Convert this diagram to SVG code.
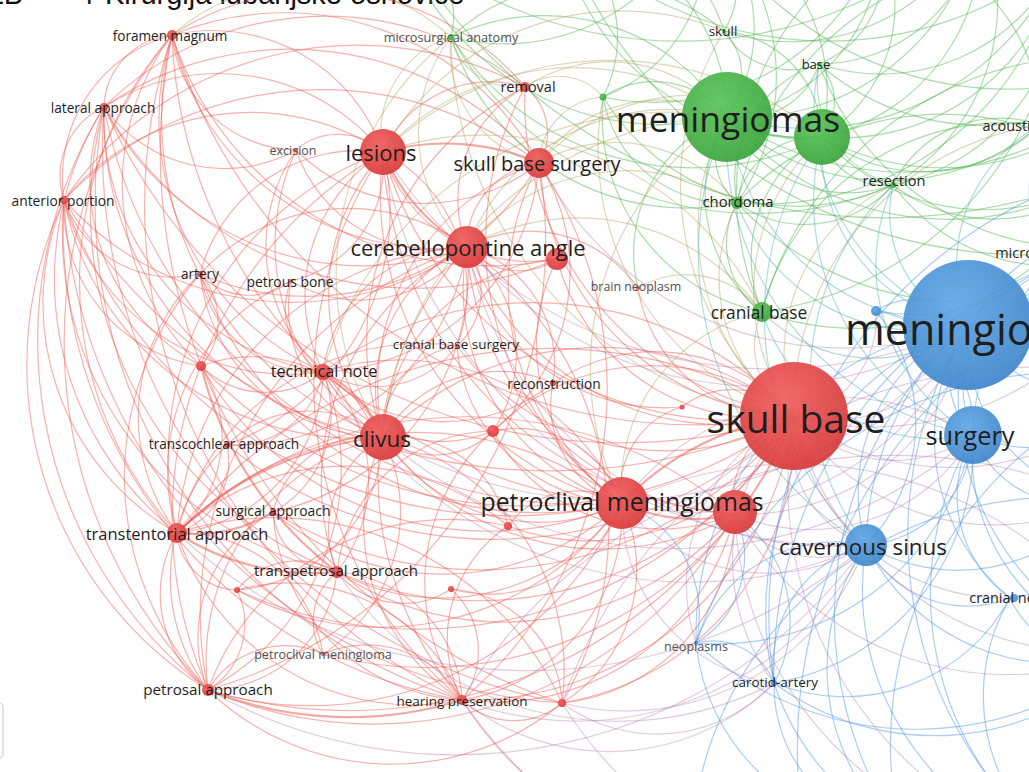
<svg xmlns="http://www.w3.org/2000/svg" width="1029" height="772" viewBox="0 0 1029 772">
<style>
#edges path{fill:none;stroke-width:1.2}
.r{stroke:rgb(236,92,82);stroke-opacity:.47}
.t{stroke:rgb(232,85,75);stroke-opacity:.5;stroke-width:2.2!important}
.g{stroke:rgb(80,182,80);stroke-opacity:.48}
.o{stroke:rgb(175,160,90);stroke-opacity:.42}
.c{stroke:rgb(70,170,170);stroke-opacity:.42}
.b{stroke:rgb(80,150,225);stroke-opacity:.48}
.m{stroke:rgb(175,120,170);stroke-opacity:.38}
.nr{fill:url(#gr);fill-opacity:.93}
.ng{fill:url(#gg);fill-opacity:.93}
.nb{fill:url(#gb);fill-opacity:.93}
.l{font-family:"Open Sans","DejaVu Sans",sans-serif;text-anchor:middle;dominant-baseline:central;fill:#1e1e1e}
.s{fill:#505050}
.st{text-anchor:start}
</style>
<defs>
<radialGradient id="gr" cx="40%" cy="35%" r="70%"><stop offset="0" stop-color="#f06060"/><stop offset="1" stop-color="#d83838"/></radialGradient>
<radialGradient id="gg" cx="40%" cy="35%" r="70%"><stop offset="0" stop-color="#5cc45c"/><stop offset="1" stop-color="#3aa43a"/></radialGradient>
<radialGradient id="gb" cx="40%" cy="35%" r="70%"><stop offset="0" stop-color="#62a8e6"/><stop offset="1" stop-color="#3f86c9"/></radialGradient>
</defs>
<rect width="1029" height="772" fill="#fff"/>
<text x="-14" y="4" font-family="Liberation Sans, Arial, sans-serif" font-size="29" fill="#111">ZB</text>
<text x="78" y="4" font-family="Liberation Sans, Arial, sans-serif" font-size="29" fill="#111">4</text>
<text x="105" y="4" font-family="Liberation Sans, Arial, sans-serif" font-size="29" fill="#111">Kirurgija lubanjske osnovice</text>
<g id="edges">
<path class="r" d="M172 35A75 75 0 0 0 104 107"/>
<path class="r" d="M172 35A148 148 0 0 0 64 200"/>
<path class="r" d="M383 152A181 181 0 0 0 172 35"/>
<path class="r" d="M172 35A340 340 0 0 0 383 437"/>
<path class="r" d="M172 35A272 272 0 0 0 467 247"/>
<path class="r" d="M172 35A547 547 0 0 0 794 416"/>
<path class="r" d="M172 35A487 487 0 0 0 622 503"/>
<path class="r" d="M172 35A374 374 0 0 0 177 533"/>
<path class="r" d="M172 35A492 492 0 0 0 208 690"/>
<path class="r" d="M172 35A544 544 0 0 0 462 700"/>
<path class="r" d="M172 35A277 277 0 0 0 323 372"/>
<path class="r" d="M539 163A292 292 0 0 0 172 35"/>
<path class="r" d="M104 107A76 76 0 0 0 64 200"/>
<path class="r" d="M383 152A212 212 0 0 0 104 107"/>
<path class="r" d="M104 107A324 324 0 0 0 383 437"/>
<path class="r" d="M104 107A292 292 0 0 0 467 247"/>
<path class="r" d="M104 107A567 567 0 0 0 794 416"/>
<path class="r" d="M104 107A489 489 0 0 0 622 503"/>
<path class="r" d="M104 107A324 324 0 0 0 177 533"/>
<path class="r" d="M104 107A444 444 0 0 0 208 690"/>
<path class="r" d="M104 107A258 258 0 0 0 323 372"/>
<path class="r" d="M104 107A390 390 0 0 0 337 572"/>
<path class="r" d="M104 107A520 520 0 0 0 462 700"/>
<path class="r" d="M383 152A242 242 0 0 0 64 200"/>
<path class="r" d="M64 200A298 298 0 0 0 383 437"/>
<path class="r" d="M64 200A305 305 0 0 0 467 247"/>
<path class="r" d="M64 200A571 571 0 0 0 794 416"/>
<path class="r" d="M64 200A476 476 0 0 0 622 503"/>
<path class="r" d="M64 200A264 264 0 0 0 177 533"/>
<path class="r" d="M64 200A383 383 0 0 0 208 690"/>
<path class="r" d="M64 200A479 479 0 0 0 462 700"/>
<path class="r" d="M64 200A233 233 0 0 0 323 372"/>
<path class="r" d="M64 200A116 116 0 0 0 200 274"/>
<path class="r" d="M64 200A346 346 0 0 0 337 572"/>
<path class="r" d="M64 200A161 161 0 0 0 201 366"/>
<path class="t" d="M539 163A234 234 0 0 0 383 152"/>
<path class="t" d="M383 152A190 190 0 0 0 467 247"/>
<path class="r" d="M383 152A214 214 0 0 0 383 437"/>
<path class="r" d="M383 152A367 367 0 0 0 794 416"/>
<path class="r" d="M383 152A319 319 0 0 0 622 503"/>
<path class="r" d="M525 87A117 117 0 0 0 383 152"/>
<path class="r" d="M383 152A171 171 0 0 0 323 372"/>
<path class="r" d="M383 152A325 325 0 0 0 177 533"/>
<path class="r" d="M383 152A425 425 0 0 0 208 690"/>
<path class="r" d="M383 152A65 65 0 0 0 296 150"/>
<path class="r" d="M383 152A153 153 0 0 0 557 259"/>
<path class="r" d="M383 152A379 379 0 0 0 735 514"/>
<path class="r" d="M383 152A416 416 0 0 0 462 700"/>
<path class="r" d="M539 163A83 83 0 0 0 467 247"/>
<path class="r" d="M539 163A269 269 0 0 0 794 416"/>
<path class="r" d="M539 163A263 263 0 0 0 622 503"/>
<path class="r" d="M539 163A58 58 0 0 0 525 87"/>
<path class="r" d="M539 163A236 236 0 0 0 383 437"/>
<path class="r" d="M467 247A156 156 0 0 0 383 437"/>
<path class="r" d="M467 247A276 276 0 0 0 794 416"/>
<path class="r" d="M467 247A224 224 0 0 0 622 503"/>
<path class="r" d="M467 247A143 143 0 0 0 323 372"/>
<path class="r" d="M467 247A305 305 0 0 0 177 533"/>
<path class="r" d="M467 247A385 385 0 0 0 208 690"/>
<path class="r" d="M467 247A340 340 0 0 0 462 700"/>
<path class="r" d="M467 247A284 284 0 0 0 735 514"/>
<path class="r" d="M467 247A68 68 0 0 0 557 259"/>
<path class="r" d="M467 247A263 263 0 0 0 337 572"/>
<path class="r" d="M467 247A201 201 0 0 0 200 274"/>
<path class="r" d="M794 416A308 308 0 0 0 383 437"/>
<path class="r" d="M383 437A186 186 0 0 0 622 503"/>
<path class="t" d="M383 437A340 340 0 0 0 177 533"/>
<path class="r" d="M383 437A230 230 0 0 0 208 690"/>
<path class="r" d="M383 437A206 206 0 0 0 462 700"/>
<path class="t" d="M383 437A130 130 0 0 0 323 372"/>
<path class="r" d="M383 437A107 107 0 0 0 337 572"/>
<path class="r" d="M383 437A270 270 0 0 0 735 514"/>
<path class="r" d="M383 437A83 83 0 0 0 493 431"/>
<path class="r" d="M383 437A117 117 0 0 0 227 445"/>
<path class="r" d="M383 437A146 146 0 0 0 201 366"/>
<path class="r" d="M383 437A100 100 0 0 0 273 512"/>
<path class="t" d="M794 416A290 290 0 0 0 622 503"/>
<path class="r" d="M794 416A86 86 0 0 0 735 514"/>
<path class="r" d="M794 416A471 471 0 0 0 177 533"/>
<path class="r" d="M208 690A485 485 0 0 0 794 416"/>
<path class="r" d="M462 700A328 328 0 0 0 794 416"/>
<path class="r" d="M794 416A355 355 0 0 0 323 372"/>
<path class="r" d="M794 416A84 84 0 0 0 682 407"/>
<path class="r" d="M794 416A182 182 0 0 0 553 383"/>
<path class="r" d="M794 416A226 226 0 0 0 493 431"/>
<path class="r" d="M337 572A362 362 0 0 0 794 416"/>
<path class="r" d="M562 703A277 277 0 0 0 794 416"/>
<path class="t" d="M622 503A170 170 0 0 0 735 514"/>
<path class="r" d="M622 503A335 335 0 0 0 177 533"/>
<path class="r" d="M208 690A341 341 0 0 0 622 503"/>
<path class="r" d="M462 700A191 191 0 0 0 622 503"/>
<path class="r" d="M337 572A220 220 0 0 0 622 503"/>
<path class="r" d="M622 503A87 87 0 0 0 508 526"/>
<path class="r" d="M562 703A157 157 0 0 0 622 503"/>
<path class="r" d="M622 503A245 245 0 0 0 323 372"/>
<path class="r" d="M622 503A111 111 0 0 0 493 431"/>
<path class="r" d="M462 700A248 248 0 0 0 735 514"/>
<path class="r" d="M735 514A419 419 0 0 0 177 533"/>
<path class="r" d="M208 690A417 417 0 0 0 735 514"/>
<path class="r" d="M177 533A120 120 0 0 0 208 690"/>
<path class="t" d="M177 533A250 250 0 0 0 337 572"/>
<path class="r" d="M177 533A248 248 0 0 0 462 700"/>
<path class="t" d="M177 533A150 150 0 0 0 273 512"/>
<path class="r" d="M177 533A163 163 0 0 0 323 372"/>
<path class="r" d="M177 533A127 127 0 0 0 201 366"/>
<path class="r" d="M177 533A76 76 0 0 0 227 445"/>
<path class="t" d="M208 690A380 380 0 0 0 462 700"/>
<path class="r" d="M208 690A131 131 0 0 0 337 572"/>
<path class="r" d="M208 690A78 78 0 0 0 237 590"/>
<path class="r" d="M208 690A254 254 0 0 0 323 372"/>
<path class="r" d="M208 690A266 266 0 0 0 562 703"/>
<path class="r" d="M462 700A134 134 0 0 0 337 572"/>
<path class="r" d="M462 700A75 75 0 0 0 562 703"/>
<path class="r" d="M462 700A83 83 0 0 0 451 589"/>
<path class="r" d="M337 572A150 150 0 0 0 323 372"/>
<path class="r" d="M337 572A77 77 0 0 0 237 590"/>
<path class="r" d="M337 572A86 86 0 0 0 451 589"/>
<path class="r" d="M237 590A296 296 0 0 0 622 503"/>
<path class="r" d="M237 590A438 438 0 0 0 794 416"/>
<path class="r" d="M201 366A92 92 0 0 0 323 372"/>
<path class="r" d="M201 366A69 69 0 0 0 200 274"/>
<path class="t" d="M201 366A370 370 0 0 0 337 572"/>
<path class="r" d="M200 274A118 118 0 0 0 323 372"/>
<path class="r" d="M200 274A68 68 0 0 0 291 281"/>
<path class="r" d="M383 152A165 165 0 0 0 200 274"/>
<path class="r" d="M291 281A134 134 0 0 0 467 247"/>
<path class="r" d="M291 281A136 136 0 0 0 383 437"/>
<path class="r" d="M323 372A135 135 0 0 0 493 431"/>
<path class="r" d="M562 703A192 192 0 0 0 735 514"/>
<path class="r" d="M562 703A119 119 0 0 0 451 589"/>
<path class="r" d="M508 526A230 230 0 0 0 794 416"/>
<path class="r" d="M553 383A121 121 0 0 0 467 247"/>
<path class="r" d="M493 431A158 158 0 0 0 337 572"/>
<path class="r" d="M273 512A262 262 0 0 0 622 503"/>
<path class="r" d="M273 512A142 142 0 0 0 208 690"/>
<path class="r" d="M227 445A185 185 0 0 0 208 690"/>
<path class="r" d="M227 445A91 91 0 0 0 323 372"/>
<path class="r" d="M457 346A258 258 0 0 0 794 416"/>
<path class="r" d="M457 346A88 88 0 0 0 383 437"/>
<path class="r" d="M323 654A143 143 0 0 0 177 533"/>
<path class="r" d="M323 654A169 169 0 0 0 383 437"/>
<path class="r" d="M525 87A268 268 0 0 0 172 35"/>
<path class="r" d="M296 150A225 225 0 0 0 383 437"/>
<path class="r" d="M172 35A127 127 0 0 0 296 150"/>
<path class="r" d="M104 107A148 148 0 0 0 296 150"/>
<path class="r" d="M296 150A168 168 0 0 0 323 372"/>
<path class="r" d="M557 259A213 213 0 0 0 794 416"/>
<path class="r" d="M557 259A189 189 0 0 0 622 503"/>
<path class="r" d="M557 259A187 187 0 0 0 383 437"/>
<path class="r" d="M553 383A134 134 0 0 0 383 437"/>
<path class="r" d="M553 383A104 104 0 0 0 622 503"/>
<path class="r" d="M638 288A152 152 0 0 0 794 416"/>
<path class="r" d="M638 288A132 132 0 0 0 467 247"/>
<path class="r" d="M682 407A85 85 0 0 0 622 503"/>
<path class="r" d="M493 431A192 192 0 0 0 735 514"/>
<path class="r" d="M451 589A143 143 0 0 0 622 503"/>
<path class="r" d="M508 526A115 115 0 0 0 383 437"/>
<path class="r" d="M508 526A135 135 0 0 0 462 700"/>
<path class="r" d="M323 654A90 90 0 0 0 208 690"/>
<path class="r" d="M323 654A396 396 0 0 0 794 416"/>
<path class="r" d="M227 445A249 249 0 0 0 383 152"/>
<path class="r" d="M227 445A233 233 0 0 0 467 247"/>
<path class="r" d="M273 512A398 398 0 0 0 794 416"/>
<path class="r" d="M273 512A246 246 0 0 0 467 247"/>
<path class="r" d="M323 372A102 102 0 0 0 457 346"/>
<path class="r" d="M200 274A184 184 0 0 0 383 437"/>
<path class="r" d="M200 274A360 360 0 0 0 622 503"/>
<path class="r" d="M201 366A332 332 0 0 0 622 503"/>
<path class="r" d="M201 366A446 446 0 0 0 794 416"/>
<path class="r" d="M172 35A249 249 0 0 0 201 366"/>
<path class="r" d="M104 107A208 208 0 0 0 201 366"/>
<path class="r" d="M462 700A188 188 0 0 0 237 590"/>
<path class="r" d="M337 572A302 302 0 0 0 735 514"/>
<path class="r" d="M177 533A62 62 0 0 0 237 590"/>
<path class="r" d="M237 590A158 158 0 0 0 383 437"/>
<path class="r" d="M64 200A531 531 0 0 0 562 703"/>
<path class="r" d="M172 35A580 580 0 0 0 562 703"/>
<path class="r" d="M104 107A564 564 0 0 0 562 703"/>
<path class="r" d="M462 700A463 463 0 0 0 1060 850"/>
<path class="r" d="M525 87A316 316 0 0 0 104 107"/>
<path class="r" d="M539 163A329 329 0 0 0 104 107"/>
<path class="r" d="M539 163A357 357 0 0 0 64 200"/>
<path class="r" d="M525 87A356 356 0 0 0 64 200"/>
<path class="r" d="M172 35A334 334 0 0 0 557 259"/>
<path class="r" d="M104 107A358 358 0 0 0 557 259"/>
<path class="r" d="M467 247A201 201 0 0 0 682 407"/>
<path class="r" d="M457 346A171 171 0 0 0 622 503"/>
<path class="r" d="M457 346A253 253 0 0 0 177 533"/>
<path class="r" d="M457 346A156 156 0 0 0 383 152"/>
<path class="r" d="M457 346A75 75 0 0 0 467 247"/>
<path class="r" d="M323 372A225 225 0 0 0 539 163"/>
<path class="r" d="M323 372A173 173 0 0 0 553 383"/>
<path class="r" d="M493 431A204 204 0 0 0 539 163"/>
<path class="r" d="M493 431A140 140 0 0 0 467 247"/>
<path class="r" d="M493 431A203 203 0 0 0 462 700"/>
<path class="r" d="M508 526A248 248 0 0 0 177 533"/>
<path class="r" d="M508 526A257 257 0 0 0 208 690"/>
<path class="r" d="M273 512A66 66 0 0 0 337 572"/>
<path class="r" d="M273 512A200 200 0 0 0 462 700"/>
<path class="r" d="M273 512A112 112 0 0 0 323 372"/>
<path class="r" d="M227 445A426 426 0 0 0 794 416"/>
<path class="r" d="M462 700A110 110 0 0 0 323 654"/>
<path class="r" d="M337 572A62 62 0 0 0 323 654"/>
<path class="r" d="M208 690A467 467 0 0 0 539 163"/>
<path class="r" d="M462 700A407 407 0 0 0 539 163"/>
<path class="r" d="M562 703A241 241 0 0 0 383 437"/>
<path class="r" d="M562 703A316 316 0 0 0 177 533"/>
<path class="r" d="M562 703A350 350 0 0 0 467 247"/>
<path class="r" d="M525 87A128 128 0 0 0 467 247"/>
<path class="r" d="M525 87A284 284 0 0 0 383 437"/>
<path class="r" d="M525 87A319 319 0 0 0 794 416"/>
<path class="r" d="M525 87A320 320 0 0 0 622 503"/>
<path class="r" d="M296 150A148 148 0 0 0 467 247"/>
<path class="r" d="M296 150A182 182 0 0 0 539 163"/>
<path class="r" d="M200 274A268 268 0 0 0 539 163"/>
<path class="r" d="M200 274A195 195 0 0 0 177 533"/>
<path class="r" d="M200 274A312 312 0 0 0 208 690"/>
<path class="r" d="M291 281A72 72 0 0 0 323 372"/>
<path class="r" d="M291 281A119 119 0 0 0 383 152"/>
<path class="r" d="M291 281A208 208 0 0 0 177 533"/>
<path class="g" d="M727 117A65 65 0 0 0 724 31"/>
<path class="g" d="M727 117A80 80 0 0 0 819 64"/>
<path class="g" style="stroke-width:2.4" d="M727 117A144 144 0 0 0 822 137"/>
<path class="g" d="M727 117A134 134 0 0 0 893 185"/>
<path class="g" d="M727 117A65 65 0 0 0 737 203"/>
<path class="g" d="M727 117A149 149 0 0 0 762 312"/>
<path class="g" d="M727 117A215 215 0 0 0 451 37"/>
<path class="g" d="M727 117A93 93 0 0 0 603 97"/>
<path class="g" d="M727 117A188 188 0 0 0 560 -70"/>
<path class="g" d="M727 117A157 157 0 0 0 700 -90"/>
<path class="g" d="M727 117A176 176 0 0 0 880 -60"/>
<path class="g" d="M727 117A276 276 0 0 0 1060 -40"/>
<path class="g" d="M727 117A290 290 0 0 0 1110 170"/>
<path class="g" d="M727 117A320 320 0 0 0 1150 60"/>
<path class="g" d="M727 117A235 235 0 0 0 1040 125"/>
<path class="g" d="M727 117A145 145 0 0 0 638 288"/>
<path class="g" d="M822 137A108 108 0 0 0 724 31"/>
<path class="g" d="M822 137A55 55 0 0 0 819 64"/>
<path class="g" d="M822 137A65 65 0 0 0 893 185"/>
<path class="g" d="M822 137A81 81 0 0 0 737 203"/>
<path class="g" d="M822 137A139 139 0 0 0 762 312"/>
<path class="g" d="M822 137A194 194 0 0 0 700 -90"/>
<path class="g" d="M822 137A154 154 0 0 0 880 -60"/>
<path class="g" d="M822 137A223 223 0 0 0 1060 -40"/>
<path class="g" d="M822 137A218 218 0 0 0 1110 170"/>
<path class="g" d="M822 137A253 253 0 0 0 1150 60"/>
<path class="g" d="M822 137A167 167 0 0 0 1040 125"/>
<path class="g" d="M724 31A205 205 0 0 0 451 37"/>
<path class="g" d="M724 31A145 145 0 0 0 560 -70"/>
<path class="g" d="M724 31A76 76 0 0 0 819 64"/>
<path class="g" d="M819 64A104 104 0 0 0 880 -60"/>
<path class="g" d="M819 64A197 197 0 0 0 1060 -40"/>
<path class="g" d="M819 64A107 107 0 0 0 893 185"/>
<path class="g" d="M819 64A121 121 0 0 0 737 203"/>
<path class="g" d="M819 64A248 248 0 0 0 1150 60"/>
<path class="g" d="M451 37A82 82 0 0 0 400 -60"/>
<path class="g" d="M451 37A210 210 0 0 0 700 -90"/>
<path class="g" d="M603 97A129 129 0 0 0 560 -70"/>
<path class="g" d="M603 97A158 158 0 0 0 700 -90"/>
<path class="g" d="M603 97A239 239 0 0 0 880 -60"/>
<path class="g" d="M603 97A128 128 0 0 0 737 203"/>
<path class="g" d="M603 97A200 200 0 0 0 762 312"/>
<path class="g" d="M737 203A84 84 0 0 0 762 312"/>
<path class="g" d="M737 203A118 118 0 0 0 893 185"/>
<path class="g" d="M737 203A221 221 0 0 0 700 -90"/>
<path class="g" d="M893 185A164 164 0 0 0 1110 170"/>
<path class="g" d="M893 185A210 210 0 0 0 1060 -40"/>
<path class="g" d="M1040 125A125 125 0 0 0 1060 -40"/>
<path class="g" d="M1040 125A119 119 0 0 0 893 185"/>
<path class="g" d="M1040 125A251 251 0 0 0 762 312"/>
<path class="g" d="M1040 125A184 184 0 0 0 880 -60"/>
<path class="g" d="M560 -70A376 376 0 0 0 1060 -40"/>
<path class="g" d="M400 -60A560 560 0 0 0 1110 170"/>
<path class="g" d="M700 -90A356 356 0 0 0 1150 60"/>
<path class="g" d="M880 -60A293 293 0 0 0 762 312"/>
<path class="g" d="M1060 -40A303 303 0 0 0 737 203"/>
<path class="g" d="M1150 60A347 347 0 0 0 762 312"/>
<path class="g" d="M1110 170A281 281 0 0 0 737 203"/>
<path class="g" d="M400 -60A279 279 0 0 0 727 117"/>
<path class="g" d="M560 -70A250 250 0 0 0 822 137"/>
<path class="g" d="M727 117A241 241 0 0 0 980 -80"/>
<path class="g" d="M822 137A201 201 0 0 0 980 -80"/>
<path class="g" d="M893 185A209 209 0 0 0 980 -80"/>
<path class="g" d="M819 64A281 281 0 0 0 1150 240"/>
<path class="g" d="M893 185A197 197 0 0 0 1150 240"/>
<path class="g" d="M737 203A311 311 0 0 0 1150 240"/>
<path class="g" d="M737 203A303 303 0 0 0 1060 -40"/>
<path class="g" d="M762 312A346 346 0 0 0 1060 -40"/>
<path class="g" d="M762 312A282 282 0 0 0 1110 170"/>
<path class="g" d="M724 31A92 92 0 0 0 700 -90"/>
<path class="g" d="M724 31A209 209 0 0 0 980 -80"/>
<path class="g" d="M819 64A162 162 0 0 0 980 -80"/>
<path class="g" d="M400 -60A435 435 0 0 0 980 -80"/>
<path class="g" d="M560 -70A500 500 0 0 0 1150 240"/>
<path class="g" d="M603 97A227 227 0 0 0 893 185"/>
<path class="g" d="M451 37A248 248 0 0 0 737 203"/>
<path class="g" d="M451 37A288 288 0 0 0 822 137"/>
<path class="g" d="M451 37A350 350 0 0 0 893 185"/>
<path class="o" d="M727 117A153 153 0 0 0 525 87"/>
<path class="o" d="M727 117A146 146 0 0 0 539 163"/>
<path class="o" d="M727 117A260 260 0 0 0 383 152"/>
<path class="o" d="M727 117A218 218 0 0 0 467 247"/>
<path class="o" d="M727 117A230 230 0 0 0 794 416"/>
<path class="o" d="M727 117A300 300 0 0 0 622 503"/>
<path class="o" d="M727 117A353 353 0 0 0 383 437"/>
<path class="o" d="M727 117A359 359 0 0 0 323 372"/>
<path class="o" d="M822 137A210 210 0 0 0 794 416"/>
<path class="o" d="M822 137A329 329 0 0 0 383 152"/>
<path class="o" d="M822 137A213 213 0 0 0 539 163"/>
<path class="o" d="M724 31A293 293 0 0 0 794 416"/>
<path class="o" d="M724 31A272 272 0 0 0 383 152"/>
<path class="o" d="M451 37A100 100 0 0 0 383 152"/>
<path class="o" d="M451 37A115 115 0 0 0 539 163"/>
<path class="o" d="M451 37A67 67 0 0 0 525 87"/>
<path class="o" d="M451 37A158 158 0 0 0 467 247"/>
<path class="o" d="M451 37A304 304 0 0 0 383 437"/>
<path class="o" d="M451 37A383 383 0 0 0 794 416"/>
<path class="o" d="M451 37A209 209 0 0 0 172 35"/>
<path class="o" d="M603 97A69 69 0 0 0 539 163"/>
<path class="o" d="M603 97A58 58 0 0 0 525 87"/>
<path class="o" d="M603 97A279 279 0 0 0 794 416"/>
<path class="o" d="M737 203A165 165 0 0 0 794 416"/>
<path class="o" d="M737 203A205 205 0 0 0 467 247"/>
<path class="o" d="M737 203A152 152 0 0 0 539 163"/>
<path class="o" d="M762 312A82 82 0 0 0 794 416"/>
<path class="o" d="M762 312A227 227 0 0 0 467 247"/>
<path class="o" d="M762 312A178 178 0 0 0 622 503"/>
<path class="o" d="M762 312A308 308 0 0 0 383 152"/>
<path class="o" d="M762 312A95 95 0 0 0 638 288"/>
<path class="o" d="M893 185A188 188 0 0 0 794 416"/>
<path class="o" d="M1040 125A286 286 0 0 0 794 416"/>
<path class="c" d="M727 117A239 239 0 0 0 968 325"/>
<path class="c" d="M727 117A302 302 0 0 0 973 435"/>
<path class="c" d="M727 117A338 338 0 0 0 866 545"/>
<path class="c" d="M822 137A179 179 0 0 0 968 325"/>
<path class="c" d="M822 137A251 251 0 0 0 973 435"/>
<path class="c" d="M822 137A308 308 0 0 0 866 545"/>
<path class="c" d="M819 64A225 225 0 0 0 968 325"/>
<path class="c" d="M737 203A196 196 0 0 0 968 325"/>
<path class="c" d="M762 312A155 155 0 0 0 968 325"/>
<path class="c" d="M762 312A183 183 0 0 0 973 435"/>
<path class="c" d="M893 185A119 119 0 0 0 968 325"/>
<path class="c" d="M893 185A197 197 0 0 0 973 435"/>
<path class="c" d="M893 185A271 271 0 0 0 866 545"/>
<path class="c" d="M1040 125A160 160 0 0 0 968 325"/>
<path class="c" d="M1040 125A208 208 0 0 0 1150 380"/>
<path class="c" d="M1150 240A197 197 0 0 0 973 435"/>
<path class="b" d="M968 325A83 83 0 0 0 973 435"/>
<path class="b" d="M968 325A182 182 0 0 0 866 545"/>
<path class="b" d="M968 325A207 207 0 0 0 1010 598"/>
<path class="b" d="M968 325A314 314 0 0 0 696 643"/>
<path class="b" d="M968 325A305 305 0 0 0 774 683"/>
<path class="b" d="M968 325A69 69 0 0 0 876 311"/>
<path class="b" d="M968 325A77 77 0 0 0 1040 252"/>
<path class="b" d="M968 325A143 143 0 0 0 1150 380"/>
<path class="b" d="M968 325A164 164 0 0 0 1100 500"/>
<path class="b" d="M968 325A272 272 0 0 0 1130 650"/>
<path class="b" d="M968 325A400 400 0 0 0 1060 850"/>
<path class="b" d="M968 325A383 383 0 0 0 900 830"/>
<path class="b" d="M968 325A158 158 0 0 0 1110 170"/>
<path class="b" d="M866 545A147 147 0 0 0 696 643"/>
<path class="b" d="M866 545A125 125 0 0 0 774 683"/>
<path class="b" d="M866 545A115 115 0 0 0 973 435"/>
<path class="b" d="M866 545A115 115 0 0 0 1010 598"/>
<path class="b" d="M866 545A179 179 0 0 0 1100 500"/>
<path class="b" d="M866 545A213 213 0 0 0 1130 650"/>
<path class="b" d="M866 545A271 271 0 0 0 1060 850"/>
<path class="b" d="M866 545A215 215 0 0 0 900 830"/>
<path class="b" d="M866 545A176 176 0 0 0 876 311"/>
<path class="b" d="M774 683A239 239 0 0 0 973 435"/>
<path class="b" d="M774 683A66 66 0 0 0 696 643"/>
<path class="b" d="M774 683A248 248 0 0 0 1060 850"/>
<path class="b" d="M774 683A268 268 0 0 0 1130 650"/>
<path class="b" d="M774 683A188 188 0 0 0 1010 598"/>
<path class="b" d="M774 683A146 146 0 0 0 900 830"/>
<path class="b" d="M696 643A260 260 0 0 0 973 435"/>
<path class="b" d="M696 643A208 208 0 0 0 900 830"/>
<path class="b" d="M696 643A326 326 0 0 0 1130 650"/>
<path class="b" d="M973 435A125 125 0 0 0 1010 598"/>
<path class="b" d="M973 435A139 139 0 0 0 1150 380"/>
<path class="b" d="M973 435A107 107 0 0 0 1100 500"/>
<path class="b" d="M973 435A200 200 0 0 0 1130 650"/>
<path class="b" d="M973 435A318 318 0 0 0 1060 850"/>
<path class="b" d="M973 435A118 118 0 0 0 876 311"/>
<path class="b" d="M1010 598A98 98 0 0 0 1130 650"/>
<path class="b" d="M1010 598A193 193 0 0 0 1060 850"/>
<path class="b" d="M1010 598A100 100 0 0 0 1100 500"/>
<path class="b" d="M876 311A205 205 0 0 0 1110 170"/>
<path class="b" d="M1040 252A127 127 0 0 0 1150 380"/>
<path class="b" d="M1040 252A146 146 0 0 0 973 435"/>
<path class="b" d="M1040 252A81 81 0 0 0 1110 170"/>
<path class="b" d="M1150 380A386 386 0 0 0 900 830"/>
<path class="b" d="M1110 170A460 460 0 0 0 774 683"/>
<path class="b" d="M1100 500A366 366 0 0 0 700 780"/>
<path class="b" d="M1200 250A510 510 0 0 0 800 800"/>
<path class="b" d="M696 643A101 101 0 0 0 735 514"/>
<path class="b" d="M774 683A130 130 0 0 0 735 514"/>
<path class="b" d="M696 643A119 119 0 0 0 622 503"/>
<path class="b" d="M1150 240A313 313 0 0 0 866 545"/>
<path class="b" d="M1150 240A436 436 0 0 0 774 683"/>
<path class="b" d="M1150 380A394 394 0 0 0 696 643"/>
<path class="m" d="M794 416A147 147 0 0 0 968 325"/>
<path class="m" d="M794 416A135 135 0 0 0 973 435"/>
<path class="m" d="M794 416A111 111 0 0 0 866 545"/>
<path class="m" d="M794 416A201 201 0 0 0 774 683"/>
<path class="m" d="M794 416A185 185 0 0 0 696 643"/>
<path class="m" d="M794 416A212 212 0 0 0 1010 598"/>
<path class="m" d="M794 416A268 268 0 0 0 1150 380"/>
<path class="m" d="M794 416A238 238 0 0 0 1100 500"/>
<path class="m" d="M794 416A308 308 0 0 0 1130 650"/>
<path class="m" d="M794 416A382 382 0 0 0 1060 850"/>
<path class="m" d="M794 416A100 100 0 0 0 876 311"/>
<path class="m" d="M622 503A186 186 0 0 0 866 545"/>
<path class="m" d="M622 503A292 292 0 0 0 968 325"/>
<path class="m" d="M622 503A177 177 0 0 0 774 683"/>
<path class="m" d="M735 514A101 101 0 0 0 866 545"/>
<path class="m" d="M735 514A225 225 0 0 0 968 325"/>
<path class="m" d="M735 514A188 188 0 0 0 973 435"/>
<path class="m" d="M735 514A313 313 0 0 0 1130 650"/>
<path class="m" d="M735 514A350 350 0 0 0 1060 850"/>
<path class="m" d="M462 700A234 234 0 0 0 774 683"/>
<path class="m" d="M462 700A325 325 0 0 0 866 545"/>
<path class="m" d="M562 703A160 160 0 0 0 774 683"/>
<path class="m" d="M562 703A389 389 0 0 0 1060 850"/>
<path class="m" d="M562 703A257 257 0 0 0 866 545"/>
<path class="m" d="M462 700A343 343 0 0 0 900 830"/>
<path class="m" d="M383 437A443 443 0 0 0 973 435"/>
<path class="m" d="M177 533A517 517 0 0 0 866 545"/>
<path class="m" d="M383 152A458 458 0 0 0 968 325"/>
<path class="m" d="M467 247A380 380 0 0 0 968 325"/>
<path class="m" d="M539 163A344 344 0 0 0 968 325"/>
<path class="m" d="M467 247A374 374 0 0 0 866 545"/>
<path class="m" d="M383 152A467 467 0 0 0 866 545"/>
<path class="m" d="M323 372A428 428 0 0 0 866 545"/>
<path class="m" d="M208 690A506 506 0 0 0 866 545"/>
<path class="m" d="M337 572A338 338 0 0 0 774 683"/>
<path class="m" d="M383 437A447 447 0 0 0 968 325"/>
<path class="m" d="M794 416A298 298 0 0 0 1150 240"/>
<path class="m" d="M973 435A268 268 0 0 0 622 503"/>
<path class="m" d="M1100 500A502 502 0 0 0 462 700"/>
<path class="m" d="M1130 650A397 397 0 0 0 622 503"/>
<path class="m" d="M1150 380A503 503 0 0 0 562 703"/>
</g>
<g id="n-excision"><circle cx="296" cy="150" r="2" class="nr"/><text class="l s" x="293" y="150" font-size="12.5">excision</text></g>
<g id="n-microsurgical-anatomy"><circle cx="451" cy="37" r="3" class="ng"/><text class="l s" x="451" y="37" font-size="12.7">microsurgical anatomy</text></g>
<g id="n-foramen-magnum"><circle cx="172" cy="35" r="5" class="nr"/><text class="l" x="170" y="35" font-size="13.6">foramen magnum</text></g>
<g id="n-lateral-approach"><circle cx="104" cy="107" r="4" class="nr"/><text class="l" x="103" y="107" font-size="13.7">lateral approach</text></g>
<g id="n-anterior-portion"><circle cx="64" cy="200" r="4" class="nr"/><text class="l" x="63" y="200" font-size="13.8">anterior portion</text></g>
<g id="n-removal"><circle cx="525" cy="87" r="5" class="nr"/><text class="l" x="528" y="86" font-size="14.5">removal</text></g>
<g id="n-g603"><circle cx="603" cy="97" r="3.5" class="ng"/></g>
<g id="n-skull"><circle cx="724" cy="31" r="2" class="ng"/><text class="l" x="723" y="31" font-size="13.5" fill="#333">skull</text></g>
<g id="n-base"><circle cx="819" cy="64" r="2" class="ng"/><text class="l" x="816" y="64" font-size="13" fill="#333">base</text></g>
<g id="n-r557"><circle cx="557" cy="259" r="11" class="nr"/></g>
<g id="n-artery"><circle cx="200" cy="274" r="3" class="nr"/><text class="l" x="200" y="273" font-size="13.6">artery</text></g>
<g id="n-petrous-bone"><circle cx="291" cy="281" r="2" class="nr"/><text class="l" x="290" y="281" font-size="13.9">petrous bone</text></g>
<g id="n-brain-neoplasm"><circle cx="638" cy="288" r="2" class="nr"/><text class="l s" x="636" y="286" font-size="12.4">brain neoplasm</text></g>
<g id="n-cranial-base-surgery"><circle cx="457" cy="346" r="2" class="nr"/><text class="l" x="456" y="344" font-size="13.5">cranial base surgery</text></g>
<g id="n-r201"><circle cx="201" cy="366" r="5" class="nr"/></g>
<g id="n-technical-note"><circle cx="323" cy="372" r="8" class="nr"/><text class="l" x="324" y="371" font-size="16.3">technical note</text></g>
<g id="n-reconstruction"><circle cx="553" cy="383" r="3" class="nr"/><text class="l" x="554" y="383" font-size="13.7">reconstruction</text></g>
<g id="n-r682"><circle cx="682" cy="407" r="2.5" class="nr"/></g>
<g id="n-r493"><circle cx="493" cy="431" r="6" class="nr"/></g>
<g id="n-transcochlear-approach"><circle cx="227" cy="445" r="3" class="nr"/><text class="l" x="224" y="443" font-size="13.6">transcochlear approach</text></g>
<g id="n-r508"><circle cx="508" cy="526" r="4" class="nr"/></g>
<g id="n-surgical-approach"><circle cx="273" cy="512" r="3" class="nr"/><text class="l" x="273" y="510" font-size="13.9">surgical approach</text></g>
<g id="n-transtentorial-approach"><circle cx="177" cy="533" r="10" class="nr"/><text class="l" x="177" y="533" font-size="16.5">transtentorial approach</text></g>
<g id="n-transpetrosal-approach"><circle cx="337" cy="572" r="6" class="nr"/><text class="l" x="336" y="570" font-size="15">transpetrosal approach</text></g>
<g id="n-r237"><circle cx="237" cy="590" r="3" class="nr"/></g>
<g id="n-r451"><circle cx="451" cy="589" r="3" class="nr"/></g>
<g id="n-petroclival-meningioma"><circle cx="323" cy="654" r="2" class="nr"/><text class="l s" x="323" y="654" font-size="12.6">petroclival meningioma</text></g>
<g id="n-petrosal-approach"><circle cx="208" cy="690" r="6" class="nr"/><text class="l" x="208" y="689" font-size="15.2">petrosal approach</text></g>
<g id="n-hearing-preservation"><circle cx="462" cy="700" r="5" class="nr"/><text class="l" x="462" y="701" font-size="13.5">hearing preservation</text></g>
<g id="n-r562"><circle cx="562" cy="703" r="4" class="nr"/></g>
<g id="n-resection"><circle cx="893" cy="185" r="3" class="ng"/><text class="l" x="894" y="180" font-size="14.6">resection</text></g>
<g id="n-chordoma"><circle cx="737" cy="203" r="6" class="ng"/><text class="l" x="738" y="201" font-size="14.8">chordoma</text></g>
<g id="n-acoustic"><circle cx="1043" cy="125" r="4" class="ng"/><text class="l" x="1043" y="125" font-size="14.5">acoustic neuroma</text></g>
<g id="n-cranial-base"><circle cx="762" cy="312" r="10" class="ng"/><text class="l" x="759" y="312" font-size="17.3">cranial base</text></g>
<g id="n-b876"><circle cx="876" cy="311" r="5" class="nb"/></g>
<g id="n-microsurgery"><circle cx="1040" cy="252" r="4" class="nb"/><text class="l" x="1040" y="252" font-size="14.5">microsurgery</text></g>
<g id="n-cranial-nerves"><circle cx="1014" cy="598" r="4" class="nb"/><text class="l" x="1016" y="597" font-size="14.4">cranial nerves</text></g>
<g id="n-neoplasms"><circle cx="696" cy="643" r="2" class="nb"/><text class="l s" x="696" y="646" font-size="12.6">neoplasms</text></g>
<g id="n-carotid-artery"><circle cx="774" cy="683" r="3" class="nb"/><text class="l" x="775" y="682" font-size="13.5">carotid-artery</text></g>
<g id="n-lesions"><circle cx="383" cy="152" r="23" class="nr"/><text class="l" x="381" y="152" font-size="22">lesions</text></g>
<g id="n-skull-base-surgery"><circle cx="539" cy="163" r="15" class="nr"/><text class="l" x="537" y="163" font-size="20">skull base surgery</text></g>
<g id="n-cerebellopontine-angle"><circle cx="467" cy="247" r="21" class="nr"/><text class="l" x="468" y="247" font-size="22">cerebellopontine angle</text></g>
<g id="n-clivus"><circle cx="383" cy="437" r="23" class="nr"/><text class="l" x="382" y="438" font-size="22.5">clivus</text></g>
<g id="n-pcm2"><circle cx="735" cy="512" r="22" class="nr"/></g>
<g id="n-petroclival-meningiomas"><circle cx="622" cy="503" r="26" class="nr"/><text class="l" x="622" y="501" font-size="24.8">petroclival meningiomas</text></g>
<g id="n-cavernous-sinus"><circle cx="866" cy="545" r="21" class="nb"/><text class="l" x="863" y="546" font-size="22.4">cavernous sinus</text></g>
<g id="n-skull-base"><circle cx="794" cy="416" r="54" class="nr"/><text class="l" x="796" y="417" font-size="39">skull base</text></g>
<g id="n-g822"><circle cx="822" cy="137" r="28" class="ng"/></g>
<g id="n-meningiomas-green"><circle cx="727" cy="117" r="45" class="ng"/><text class="l" x="728" y="118" font-size="35.5">meningiomas</text></g>
<g id="n-surgery"><circle cx="973" cy="435" r="29" class="nb"/><text class="l" x="970" y="435" font-size="25.3">surgery</text></g>
<g id="n-meningiomas-blue"><circle cx="968" cy="325" r="65" class="nb"/><text class="l st" x="845" y="328" font-size="43">meningiomas</text></g>
<rect x="-20" y="702" width="23" height="57" rx="5" fill="#fff" stroke="#c8c8c8"/>
</svg>
